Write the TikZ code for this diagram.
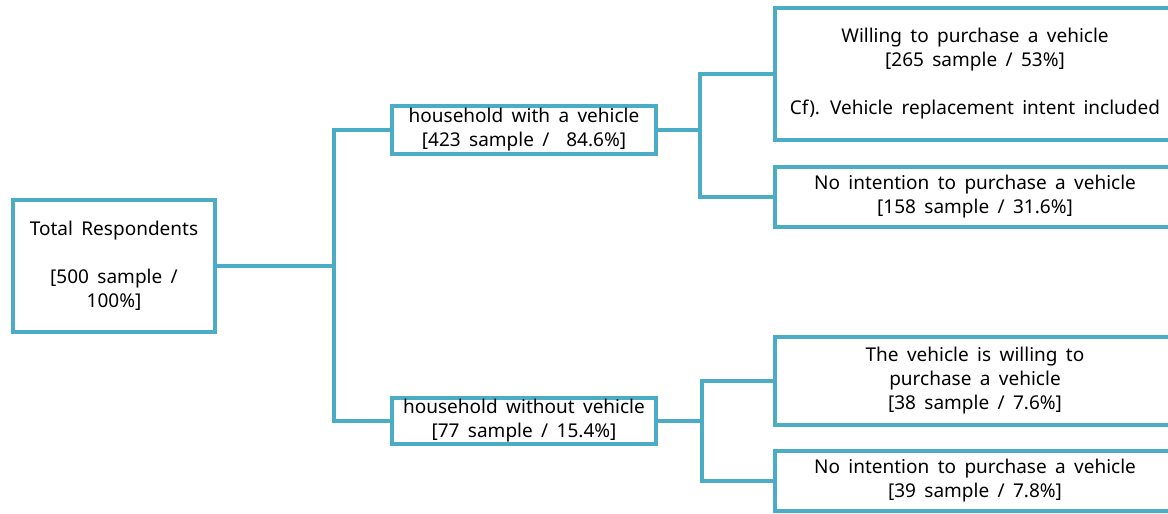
\documentclass[tikz,border=0pt]{standalone}
\usepackage{fontspec}
\setmainfont{Noto Sans}[WordSpace=1.7]
\definecolor{boxblue}{HTML}{4BACC6}

\begin{document}
\begin{tikzpicture}[x=0.5pt, y=-0.5pt,
  box/.style={draw=boxblue, line width=1.7pt, fill=white, align=center,
    inner sep=0pt, font=\fontsize{9.5}{12}\selectfont},
  link/.style={draw=boxblue, line width=1.6pt}]
  \useasboundingbox (0,0) rectangle (1168,514);
  \clip (0,0) rectangle (1168,514);

  % first level
  \node[box, minimum width=101pt, minimum height=66pt] (total) at (114,266)
    {Total Respondents\\[12pt]{[}500 sample /\\100\%]};

  % second level
  \node[box, minimum width=132pt, minimum height=24pt] (withveh) at (524,130)
    {household with a vehicle\\{[}423 sample / \ 84.6\%]};
  \node[box, minimum width=132pt, minimum height=23pt] (withoutveh) at (524,421)
    {household without vehicle\\{[}77 sample / 15.4\%]};

  % third level
  \node[box, minimum width=200pt, minimum height=66pt] (willing) at (975,74)
    {Willing to purchase a vehicle\\{[}265 sample / 53\%]\\[12pt]Cf). Vehicle replacement intent included};
  \node[box, minimum width=200pt, minimum height=30pt] (nointent) at (975,197)
    {No intention to purchase a vehicle\\{[}158 sample / 31.6\%]};
  \node[box, minimum width=200pt, minimum height=44pt] (newwilling) at (975,381)
    {The vehicle is willing to\\purchase a vehicle\\{[}38 sample / 7.6\%]};
  \node[box, minimum width=200pt, minimum height=30pt] (newnointent) at (975,481)
    {No intention to purchase a vehicle\\{[}39 sample / 7.8\%]};

  % junctions
  \coordinate (split0) at (334,266);
  \coordinate (split1) at (700,130);
  \coordinate (split2) at (702,421);

  \draw[link] (total.east) -- (split0);
  \draw[link] (withveh.west) -| (split0) |- (withoutveh.west);
  \draw[link] (withveh.east) -- (split1);
  \draw[link] (willing.west) -| (split1) |- (nointent.west);
  \draw[link] (withoutveh.east) -- (split2);
  \draw[link] (newwilling.west) -| (split2) |- (newnointent.west);
\end{tikzpicture}
\end{document}
